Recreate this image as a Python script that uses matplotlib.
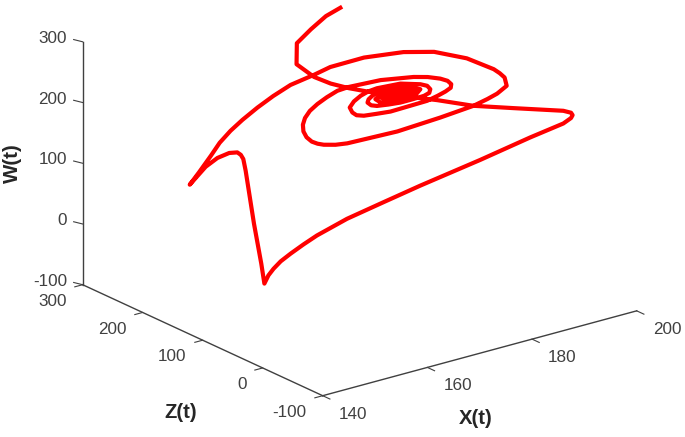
import matplotlib
matplotlib.use('Agg')
import matplotlib.pyplot as plt
from mpl_toolkits.mplot3d import proj3d

plt.rcParams['font.family'] = ['Liberation Sans', 'DejaVu Sans']

''' DATA read off the picture '''
x_t = [188.1, 184.2, 179.6, 175.2, 171.7, 171.6, 172.5, 173.7, 174.9, 177.7, 182.5, 186.0, 190.2, 196.3, 197.2, 197.5,
       197.2, 196.3, 191.1, 182.7, 172.4, 166.5, 160.7, 156.1, 154.1, 152.2, 150.9, 150.1, 149.7, 149.5,
       151.2, 152.1, 152.8, 153.5, 153.6, 153.5, 153.1, 152.0, 150.9, 149.0, 150.2, 151.9, 153.0, 154.5, 156.2, 158.5,
       160.6, 163.1, 166.4, 168.4, 173.7, 180.1, 184.8, 189.9, 193.9, 194.7, 195.4, 195.8, 194.2, 192.7, 190.6, 184.8,
       177.2, 168.2, 166.3, 164.3, 163.1, 162.0, 161.0, 160.4, 160.3, 160.7, 161.4, 162.5, 164.3, 166.3,
       167.9, 174.0, 180.3, 183.0, 185.4, 186.8, 187.5, 187.4, 186.4, 184.9, 182.9, 179.3, 175.9, 173.2, 170.8, 169.4,
       168.6, 168.1, 168.9, 170.2, 171.7, 173.3, 177.8, 181.6, 182.9, 183.5, 183.3, 182.3, 180.1, 177.8, 175.5, 173.3,
       172.2, 171.5, 171.7, 172.4, 173.6, 175.3, 179.1, 181.6, 180.7, 176.5, 174.0, 173.0, 174.6, 178.4, 181.0, 179.1,
       175.3, 174.0, 175.5, 178.6, 180.1, 178.2, 175.5, 174.7, 176.3, 178.6, 179.3, 177.4, 175.7, 176.1, 177.8, 178.6,
       177.0, 176.5, 177.4]
z_t = [290, 280, 265, 250, 220, 190, 170, 150, 130, 110, 80, 50, 20, -10, -15, -15,
       -15, -10, 0, 10, 20, 30, 40, 50, 55, 60, 65, 70, 75, 80,
       100, 120, 140, 150, 155, 160, 170, 180, 190, 200, 195, 190, 185, 180, 175, 170,
       162, 155, 145, 135, 125, 115, 105, 95, 85, 82, 80, 80, 82, 85, 90, 95,
       100, 105, 108, 110, 110, 110, 110, 110, 110, 110, 108, 105, 105, 105,
       100, 100, 100, 100, 100, 100, 100, 100, 100, 100, 100, 100, 100, 100, 100, 100,
       100, 100, 100, 100, 100, 100, 100, 100, 100, 100, 100, 100, 100, 100, 100, 100,
       100, 100, 100, 100, 100, 100, 100, 100, 100, 100, 100, 100, 100, 100, 100, 100,
       100, 100, 100, 100, 100, 100, 100, 100, 100, 100, 100, 100, 100, 100, 100, 100,
       100, 100, 100]
w_t = [248.6, 248.5, 244.3, 238.5, 225.8, 218.8, 214.9, 213.6, 214.5, 211.1, 205.5, 201.7, 201.8, 196.9, 193.9, 189.3,
       185.2, 176.0, 160.5, 138.5, 115.6, 97.4, 79.1, 57.8, 45.4, 32.3, 20.5, 7.8, -4.4, -19.8,
       0.0, 54.5, 131.1, 144.0, 148.4, 150.4, 145.8, 135.6, 119.1, 89.4, 109.3, 135.0, 156.0, 174.5, 190.8, 208.0,
       225.8, 241.4, 254.8, 267.7, 275.5, 274.2, 268.2, 250.2, 227.6, 220.5, 212.7, 198.1, 188.0, 181.3, 172.7, 164.5,
       157.1, 156.2, 156.9, 160.7, 165.2, 171.2, 180.7, 191.7, 203.0, 213.1, 224.1, 234.2, 241.2, 247.1,
       252.0, 249.1, 239.6, 233.2, 225.0, 218.1, 211.0, 205.3, 201.5, 197.9, 194.3, 193.6, 192.9, 195.4, 197.9, 202.0,
       208.4, 217.7, 225.9, 232.2, 236.0, 237.3, 234.5, 224.6, 219.0, 212.0, 206.4, 203.9, 203.3, 203.3, 205.4, 208.2,
       211.8, 217.9, 222.8, 226.9, 230.7, 231.2, 227.8, 216.4, 209.4, 209.0, 212.3, 220.0, 227.3, 225.5, 215.1, 209.7,
       213.1, 220.5, 227.9, 223.3, 215.6, 212.6, 215.6, 221.5, 224.5, 220.9, 215.8, 215.3, 218.4, 223.3, 220.9, 216.7,
       216.9, 220.7, 220.2]

x_ticks = [140, 160, 180, 200]
z_ticks = [-100, 0, 100, 200, 300]
w_ticks = [-100, 0, 100, 200, 300]

W_PX, H_PX = 685, 437
AXIS_COL = '#404040'

fig = plt.figure(figsize=(W_PX / 100, H_PX / 100), dpi=100)
side = 500
ax = fig.add_axes([0.1, 0.1, side / W_PX, side / H_PX], projection='3d')
ax.set_proj_type('ortho')
ax.view_init(elev=20.7, azim=232.6)
ax.set_box_aspect((1, 1, 0.657))
ax.set_xlim(140, 200)
ax.set_ylim(-100, 300)
ax.set_zlim(-100, 300)
ax.set_axis_off()
ax.patch.set_alpha(0)
ax.computed_zorder = False


def to_px(x, y, z):
    u, v, _ = proj3d.proj_transform(x, y, z, ax.get_proj())
    return ax.transData.transform((u, v))


# scale and shift the axes so the box corners land where they are in the picture
ax.apply_aspect()
p0 = to_px(140, -100, -100)
p1 = to_px(200, -100, -100)
f = 314.0 / (p1[0] - p0[0])
pos = ax.get_position()
cx, cy = (pos.x0 + pos.x1) / 2 * W_PX, (pos.y0 + pos.y1) / 2 * H_PX
side = side * f
cx += 322.7 - (cx + f * (p0[0] - cx))
cy += (H_PX - 395.7) - (cy + f * (p0[1] - cy))
ax.set_position([(cx - side / 2) / W_PX, (cy - side / 2) / H_PX, side / W_PX, side / H_PX])
ax.apply_aspect()

# axis lines and ticks
ax.plot([140, 200], [-100, -100], [-100, -100], color=AXIS_COL, lw=1.0, zorder=1, clip_on=False)
ax.plot([140, 140], [-100, 300], [-100, -100], color=AXIS_COL, lw=1.0, zorder=1, clip_on=False)
ax.plot([140, 140], [300, 300], [-100, 300], color=AXIS_COL, lw=1.0, zorder=1, clip_on=False)
for t in x_ticks:
    ax.plot([t, t], [-100, -112], [-100, -100], color=AXIS_COL, lw=0.8, zorder=1, clip_on=False)
for t in z_ticks:
    ax.plot([140, 138.5], [t, t], [-100, -100], color=AXIS_COL, lw=0.8, zorder=1, clip_on=False)
for t in w_ticks:
    ax.plot([140, 139.5], [300, 310.6], [t, t], color=AXIS_COL, lw=0.8, zorder=1, clip_on=False)

ax.plot(x_t, z_t, w_t, color='#ff0000', lw=3.0, solid_joinstyle='round', zorder=3, clip_on=False)


def put(px, py, txt, **kw):
    fig.text(px / W_PX, py / H_PX, txt, **kw)


for t in x_ticks:
    p = to_px(t, -100, -100)
    put(p[0] + 16, p[1] - 18.5, str(t), ha='left', va='center', fontsize=12.3, color=AXIS_COL)
for t in z_ticks:
    p = to_px(140, t, -100)
    put(p[0] - 16, p[1] - 16.6, str(t), ha='right', va='center', fontsize=12.3, color=AXIS_COL)
for t in w_ticks:
    p = to_px(140, 300, t)
    put(p[0] - 15.7, p[1] + 3.5, str(t), ha='right', va='center', fontsize=12.3, color=AXIS_COL)

put(476, H_PX - 419, 'X(t)', ha='center', va='center', fontsize=14.6, fontweight='bold', color='#262626')
put(181, H_PX - 413, 'Z(t)', ha='center', va='center', fontsize=14.6, fontweight='bold', color='#262626')
put(12, H_PX - 163, 'W(t)', ha='center', va='center', rotation=90, fontsize=14.8, fontweight='bold', color='#262626')

fig.savefig('out.png', dpi=100)
